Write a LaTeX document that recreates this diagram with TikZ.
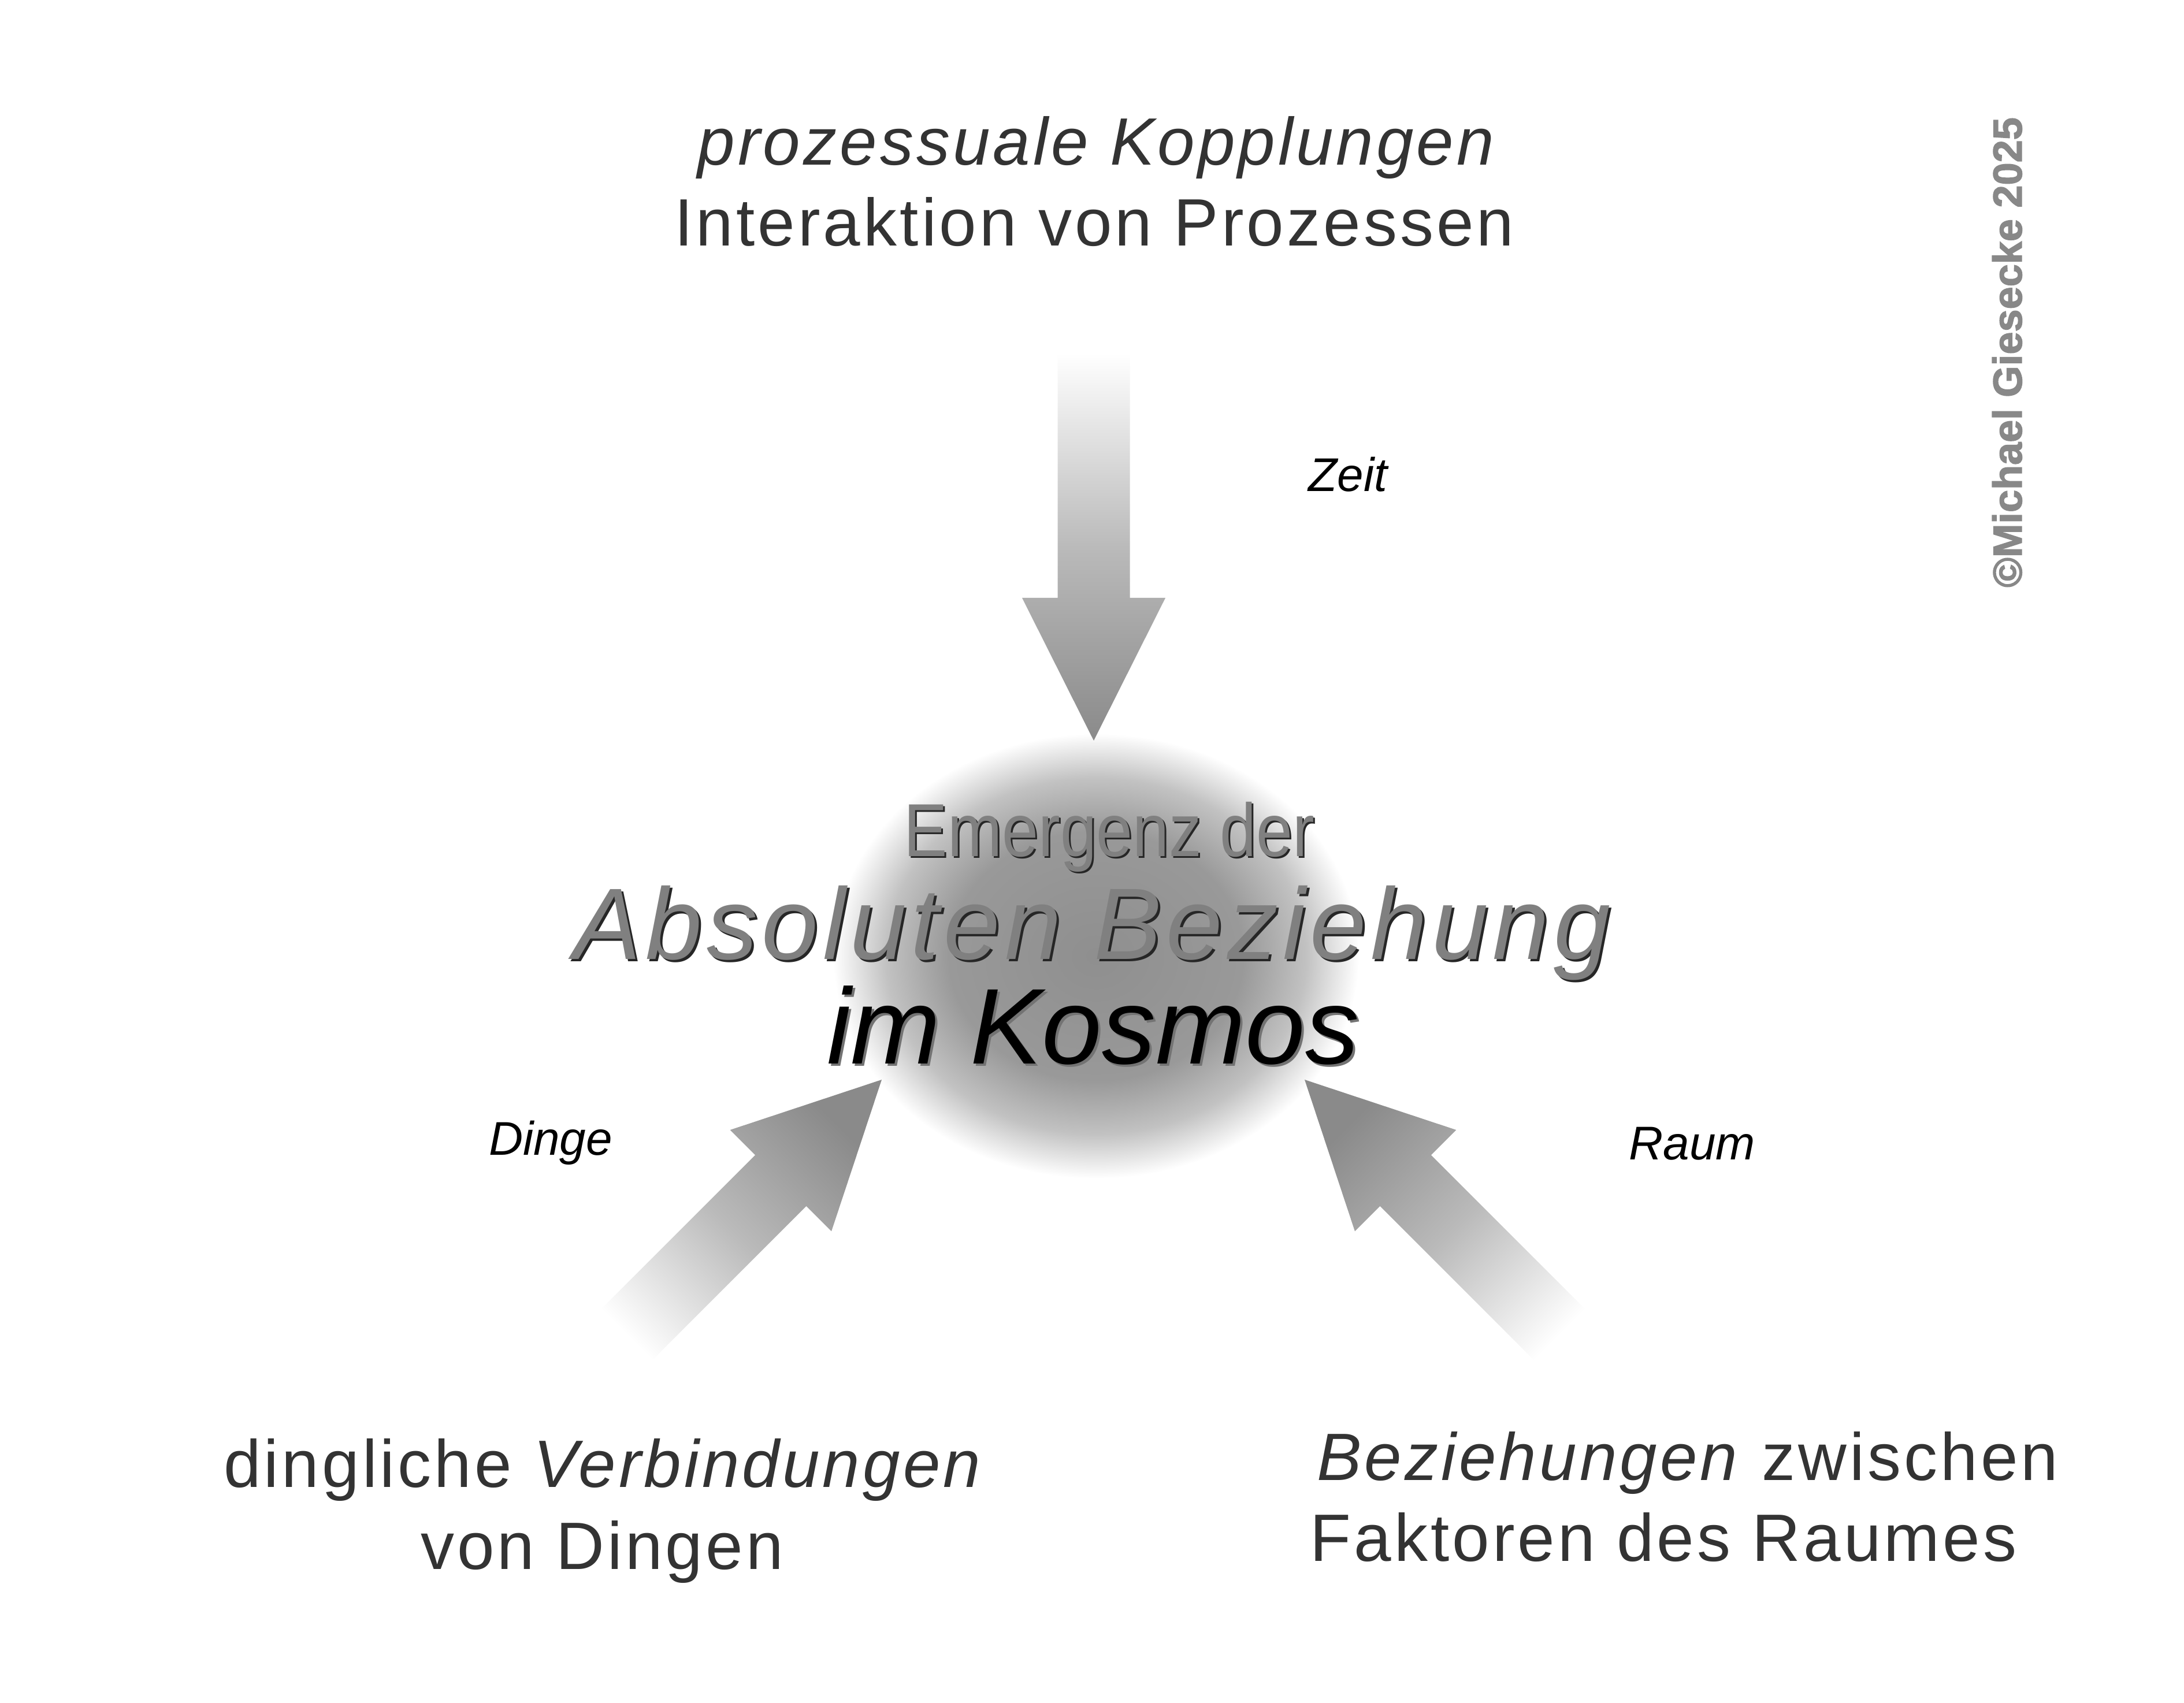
\documentclass[tikz,border=0pt]{standalone}
\usepackage{fontspec}
\usepackage{graphicx}
\setmainfont{Liberation Sans}
\newfontfamily\spaced{Liberation Sans}[LetterSpace=4.4]
\newfontfamily\titlefont{Liberation Sans}[LetterSpace=4.5]
\newfontfamily\markfont{Liberation Sans}[BoldFeatures={FakeBold=2}]
\definecolor{txtgray}{HTML}{333333}
\definecolor{arrowgray}{HTML}{8A8A8A}
\definecolor{markgray}{HTML}{888888}
\pgfdeclareradialshading{blob}{\pgfpoint{0bp}{0bp}}{color(0bp)=(black!44); color(14bp)=(black!40); color(20bp)=(black!24); color(25bp)=(white); color(50bp)=(white)}
\tikzset{
  txt/.style={inner sep=0pt, anchor=base, text=txtgray, font=\spaced\fontsize{33}{40}\selectfont},
  lbl/.style={inner sep=0pt, anchor=base, font=\fontsize{23.3}{28}\selectfont\itshape},
  shadowtxt/.style={inner sep=0pt, anchor=base, text=black!85},
  embossed/.style={inner sep=0pt, anchor=base, text=black!50},
  arrowshade/.style={bottom color=white, top color=arrowgray, middle color=black!27}
}
\begin{document}
\begin{tikzpicture}
\fill[white] (0,0) rectangle (37.8,-29.48);
\useasboundingbox (0,0) rectangle (37.8,-29.48);
\coordinate (blob) at (18.97,-16.55);
\shade[shading=blob] (blob) ellipse (4.55 and 3.85);
\foreach \x/\y/\r/\s in {18.93/-12.82/-90/180, 15.26/-18.69/45/-45, 22.58/-18.69/135/45} {
  \begin{scope}[shift={(\x,\y)}, rotate=\r]
    \shade[arrowshade, shading angle=\s] (0,0) -- (-2.47,1.24) -- (-2.47,0.625) -- (-6.71,0.625)
      -- (-6.71,-0.625) -- (-2.47,-0.625) -- (-2.47,-1.24) -- cycle;
  \end{scope}
}
\node[txt, font=\spaced\fontsize{33}{40}\selectfont\itshape] (kopp) at (18.97,-2.86) {prozessuale Kopplungen};
\node[txt] (inter) at (18.94,-4.26) {Interaktion von Prozessen};
\node[txt] (dingl) at (10.45,-25.74) {dingliche \textit{Verbindungen}};
\node[txt] (vond) at (10.42,-27.16) {von Dingen};
\node[txt] (bez) at (29.21,-25.62) {\textit{Beziehungen} zwischen};
\node[txt] (fakt) at (28.79,-27.02) {Faktoren des Raumes};
\node[lbl] (zeit) at (23.33,-8.51) {Zeit};
\node[lbl] (dinge) at (9.53,-19.99) {Dinge};
\node[lbl] (raum) at (29.29,-20.07) {Raum};
\node[shadowtxt, font=\fontsize{37}{44}\selectfont] (emerg-s) at (19.23,-14.85) {\scalebox{0.87}[1]{Emergenz der}};
\node[embossed, font=\fontsize{37}{44}\selectfont] (emerg) at (19.20,-14.82) {\scalebox{0.87}[1]{Emergenz der}};
\node[shadowtxt, font=\titlefont\fontsize{50}{60}\selectfont\itshape] (abs-s) at (18.94,-16.64) {Absoluten Beziehung};
\node[embossed, font=\titlefont\fontsize{50}{60}\selectfont\itshape] (abs) at (18.90,-16.60) {Absoluten Beziehung};
\node[shadowtxt, text=black!55, font=\fontsize{53}{62}\selectfont\itshape] (kosm-s) at (18.96,-18.45) {im Kosmos};
\node[embossed, text=black, font=\fontsize{53}{62}\selectfont\itshape] (kosm) at (18.92,-18.41) {im Kosmos};
\node[rotate=90, anchor=base, inner sep=0pt, text=markgray, font=\markfont\bfseries\fontsize{20}{24}\selectfont] (copy) at (34.99,-6.10) {©Michael Giesecke 2025};
\end{tikzpicture}
\end{document}
